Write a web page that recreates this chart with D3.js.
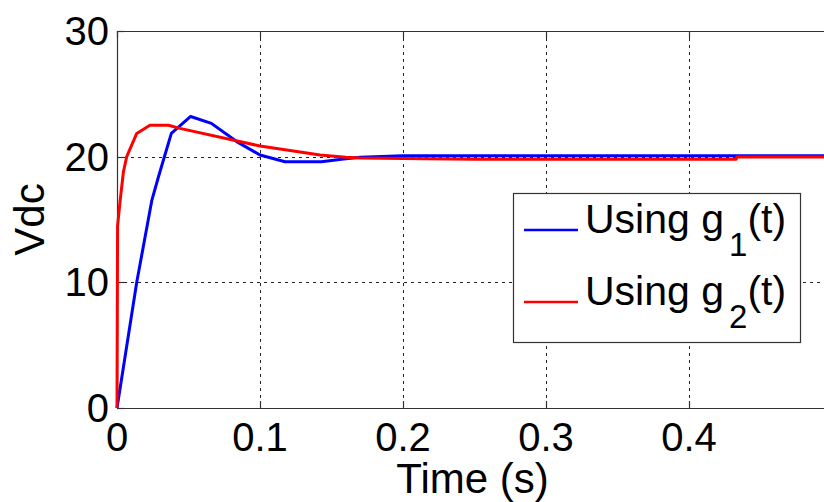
<!DOCTYPE html>
<html><head><meta charset="utf-8">
<script src="https://cdn.jsdelivr.net/npm/d3@7"></script>
<style>html,body{margin:0;padding:0;background:#fff;overflow:hidden}</style>
</head><body>
<script>
// ---- data ----
const xTicks = [0, 0.1, 0.2, 0.3, 0.4];
const xTickLabels = ["0", "0.1", "0.2", "0.3", "0.4"];
const yTicks = [0, 10, 20, 30];
const yTickLabels = ["0", "10", "20", "30"];
const g1Time = [0, 0.0138, 0.0243, 0.029, 0.038, 0.0515, 0.066, 0.0837, 0.1, 0.1175, 0.143, 0.157, 0.17, 0.18, 0.2, 0.5];
const g1Vdc  = [0, 10, 16.5, 18.4, 21.85, 23.2, 22.65, 21.2, 20.13, 19.6, 19.6, 19.8, 19.95, 20.0, 20.07, 20.07];
const g2Time = [0, 0.0004, 0.0022, 0.0045, 0.0068, 0.0138, 0.023, 0.036, 0.044, 0.1, 0.142, 0.16, 0.17, 0.2, 0.25, 0.433, 0.4335, 0.5];
const g2Vdc  = [0, 14.5, 16.5, 18.8, 20.0, 21.85, 22.5, 22.5, 22.25, 20.85, 20.13, 19.95, 19.9, 19.85, 19.8, 19.8, 19.97, 19.97];
const seriesNames = ["Using g", "Using g"];
const seriesSubs = ["1", "2"];
const seriesColors = ["#0000ff", "#ff0000"];

const W = 824, H = 502;
const L = 117, T = 31, B = 408, R = 832;
const svg = d3.select("body").append("svg").attr("width", W).attr("height", H)
  .style("font-family", "'Liberation Sans', Arial, sans-serif");

const x = d3.scaleLinear().domain([0, 0.5]).range([L, R]);
const y = d3.scaleLinear().domain([0, 30]).range([B, T]);

// grid
const grid = svg.append("g").attr("stroke", "#222").attr("stroke-width", 1).attr("stroke-dasharray", "3,4");
grid.selectAll("line.vx").data(xTicks.filter(d => d > 0)).join("line")
  .attr("x1", d => Math.round(x(d)) + 0.5).attr("x2", d => Math.round(x(d)) + 0.5)
  .attr("y1", T).attr("y2", B);
grid.selectAll("line.hy").data(yTicks.filter(d => d > 0 && d < 30)).join("line")
  .attr("x1", L).attr("x2", R)
  .attr("y1", d => Math.round(y(d)) + 0.5).attr("y2", d => Math.round(y(d)) + 0.5);

// axes box
const ax = svg.append("g").attr("stroke", "#333").attr("stroke-width", 1.2).attr("fill", "none");
ax.append("line").attr("x1", L + 0.5).attr("x2", L + 0.5).attr("y1", T).attr("y2", B);
ax.append("line").attr("x1", L).attr("x2", R).attr("y1", B + 0.5).attr("y2", B + 0.5);
ax.append("line").attr("x1", L).attr("x2", R).attr("y1", T + 0.5).attr("y2", T + 0.5);
// ticks (inward)
xTicks.forEach(d => {
  const px = Math.round(x(d)) + 0.5;
  ax.append("line").attr("x1", px).attr("x2", px).attr("y1", B).attr("y2", B - 7);
  ax.append("line").attr("x1", px).attr("x2", px).attr("y1", T).attr("y2", T + 7);
});
yTicks.forEach(d => {
  const py = Math.round(y(d)) + 0.5;
  ax.append("line").attr("x1", L).attr("x2", L + 7).attr("y1", py).attr("y2", py);
});

// tick labels
svg.append("g").selectAll("text").data(xTicks).join("text")
  .attr("x", d => x(d)).attr("y", 451).attr("text-anchor", "middle")
  .attr("font-size", 40).text((d, i) => xTickLabels[i]);
svg.append("g").selectAll("text").data(yTicks).join("text")
  .attr("x", 109).attr("y", d => y(d) + 14).attr("text-anchor", "end")
  .attr("font-size", 40).text((d, i) => yTickLabels[i]);

// axis labels
svg.append("text").attr("x", (L + R) / 2 - 2).attr("y", 493).attr("text-anchor", "middle")
  .attr("font-size", 42).text("Time (s)");
svg.append("text").attr("transform", `translate(44,${(T + B) / 2}) rotate(-90)`)
  .attr("text-anchor", "middle").attr("font-size", 42).text("Vdc");

// curves
const line = d3.line().x(d => x(d[0])).y(d => y(d[1]));
const g1 = g1Time.map((t, i) => [t, g1Vdc[i]]);
const g2 = g2Time.map((t, i) => [t, g2Vdc[i]]);
svg.append("path").datum(g1).attr("d", line).attr("fill", "none")
  .attr("stroke", seriesColors[0]).attr("stroke-width", 3).attr("stroke-linejoin", "round");
svg.append("path").datum(g2).attr("d", line).attr("fill", "none")
  .attr("stroke", seriesColors[1]).attr("stroke-width", 3).attr("stroke-linejoin", "round");

// legend
const lg = svg.append("g");
lg.append("rect").attr("x", 513.5).attr("y", 193.5).attr("width", 287).attr("height", 149)
  .attr("fill", "#fff").attr("stroke", "#333").attr("stroke-width", 1.2);
[0, 1].forEach(i => {
  const ly = 230 + i * 72;
  lg.append("line").attr("x1", 524).attr("x2", 578).attr("y1", ly).attr("y2", ly)
    .attr("stroke", seriesColors[i]).attr("stroke-width", 2.5);
  const t = lg.append("text").attr("x", 585).attr("y", 233 + i * 72).attr("font-size", 41);
  t.append("tspan").text(seriesNames[i]);
  t.append("tspan").attr("font-size", 33).attr("dx", 5).attr("dy", 23).text(seriesSubs[i]);
  t.append("tspan").attr("dy", -23).text("(t)");
});
</script>
</body></html>
